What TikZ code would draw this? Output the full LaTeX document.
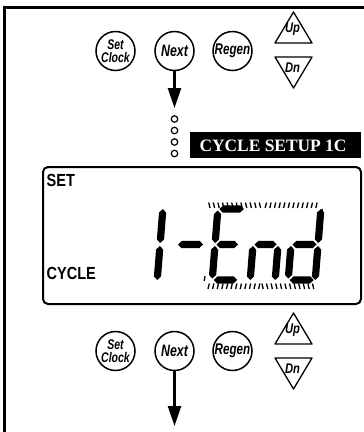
\documentclass[tikz,border=0pt]{standalone}
\usepackage{fontspec}
\setmainfont{Liberation Serif}
\newfontfamily\btnfont[FakeStretch=0.75]{Liberation Sans}
\newfontfamily\trifont[FakeStretch=0.8]{Liberation Sans}
\newfontfamily\lcdfont[FakeStretch=0.83]{Liberation Sans}
\usetikzlibrary{arrows.meta}
\newcommand\mysegh[3]{\fill (#1,#3) -- (#1+3.6,#3-3.6) -- (#2-3.6,#3-3.6) -- (#2,#3) -- (#2-3.6,#3+3.6) -- (#1+3.6,#3+3.6) -- cycle;}
\newcommand\mysegv[3]{\fill (#1,#2) -- (#1+3.6,#2+3.6) -- (#1+3.6,#3-3.6) -- (#1,#3) -- (#1-3.6,#3-3.6) -- (#1-3.6,#2+3.6) -- cycle;}
\begin{document}
\begin{tikzpicture}[x=1pt,y=-1pt,
  btn/.style={circle,draw,line width=1.5pt,minimum size=39pt,inner sep=0pt,
    font=\btnfont\bfseries\itshape\fontsize{16.5}{13}\selectfont,align=center},
  btnsm/.style={btn,font=\btnfont\bfseries\itshape\fontsize{14}{12.5}\selectfont},
  btnmd/.style={btn,font=\btnfont\bfseries\itshape\fontsize{15.5}{13}\selectfont},
  arr/.style={line width=2.5pt,-{Triangle[length=20pt,width=13pt]}},
  dotc/.style={circle,draw,line width=1.2pt,minimum size=6.5pt,inner sep=0pt},
  tri/.style={line width=1.3pt,line join=round},
  trilabel/.style={font=\trifont\bfseries\itshape\fontsize{14}{14}\selectfont,anchor=base,inner sep=0pt},
  lcdlabel/.style={font=\lcdfont\bfseries\fontsize{17.5}{17.5}\selectfont,anchor=base west,inner sep=0pt},
  hdrbox/.style={fill=black,minimum width=171pt,minimum height=26pt,inner sep=0pt,anchor=north west},
  hdrtext/.style={text=white,font=\bfseries\fontsize{17.4}{17.4}\selectfont,inner sep=0pt},
  tick/.style={line width=1.3pt}]
\useasboundingbox (0,0) rectangle (364,432);
% frame
\draw[line width=3pt] (4,432) -- (4,7) -- (364,7);
% top row
\node[btnsm] (set1) at (115.5,51) {Set\\Clock};
\node[btn] (next1) at (174.5,51) {Next};
\node[btnmd] (regen1) at (232.5,51) {Regen};
\draw[tri] (275,43) -- (293.5,12) -- (312,43) -- cycle;
\node[trilabel] (up1) at (292.5,32) {Up};
\draw[tri] (275,57) -- (312,57) -- (293.5,88) -- cycle;
\node[trilabel] (dn1) at (292.5,72) {Dn};
\coordinate (tip1) at (174.5,108);
\draw[arr] (next1) -- (tip1);
\node[dotc] (d1) at (174.5,119) {};
\node[dotc] (d2) at (174.5,130.5) {};
\node[dotc] (d3) at (174.5,142) {};
\node[dotc] (d4) at (174.5,153.5) {};
% header
\node[hdrbox] (hdr) at (190,132) {};
\node[hdrtext] (hdrt) at (273,146) {CYCLE SETUP 1C};
% LCD
\draw[line width=2pt,rounded corners=5pt] (43,167) rectangle (361,304);
\node[lcdlabel] (setl) at (46.5,186) {SET};
\node[lcdlabel] (cycl) at (46.5,279) {CYCLE};
\begin{scope}[shift={(19.6,0)},xslant=0.08]
  % 1
  \mysegv{160}{209}{243}
  \mysegv{160}{246}{280}
  % -
  \mysegh{178}{203}{244.5}
  % E
  \mysegv{215}{210.5}{243}
  \mysegv{215}{246}{278.5}
  \mysegh{216.5}{241}{209}
  \mysegh{216.5}{238}{244.5}
  \mysegh{216.5}{240}{280}
  % n
  \mysegv{253}{246}{280}
  \mysegv{278}{246}{280}
  \mysegh{254.5}{276.5}{244.5}
  % d
  \mysegv{318}{209}{243}
  \mysegv{318}{246}{280}
  \mysegv{291}{246}{278.5}
  \mysegh{292.5}{316.5}{244.5}
  \mysegh{292.5}{316.5}{280}
\end{scope}
% flashing ticks
\foreach \i in {0,...,11} {\draw[tick] (210+\i*4.6,208) -- ++(-1.3,-5.5);}
\foreach \i in {12,...,23} {\draw[tick] (210+\i*4.6,208) -- ++(1.3,-5.5);}
\foreach \i in {0,...,11} {\draw[tick] (208+\i*4.6,289) -- ++(1.3,-5.5);}
\foreach \i in {12,...,23} {\draw[tick] (208+\i*4.6,289) -- ++(-1.3,-5.5);}
\draw[tick] (322,209) -- ++(0.8,5);
\draw[tick] (205,276) -- ++(-0.8,5);
% bottom row
\node[btnsm] (set2) at (115.5,351) {Set\\Clock};
\node[btn] (next2) at (174.5,351) {Next};
\node[btnmd] (regen2) at (232.5,351) {Regen};
\draw[tri] (275,344) -- (293.5,313) -- (312,344) -- cycle;
\node[trilabel] (up2) at (292.5,333) {Up};
\draw[tri] (275,358) -- (312,358) -- (293.5,389) -- cycle;
\node[trilabel] (dn2) at (292.5,373) {Dn};
\coordinate (tip2) at (174.5,426);
\draw[arr] (next2) -- (tip2);
\end{tikzpicture}
\end{document}
